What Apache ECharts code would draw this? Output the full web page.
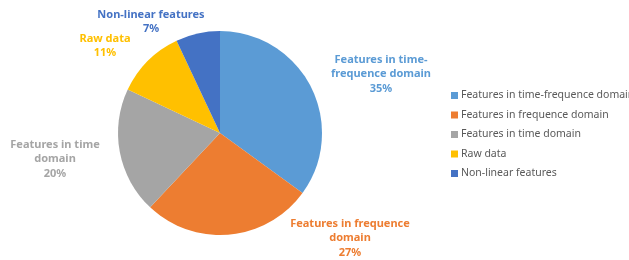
<!DOCTYPE html>
<html>
<head>
<meta charset="utf-8">
<script src="https://cdn.jsdelivr.net/npm/echarts@6/dist/echarts.min.js"></script>
<style>
  html, body { margin: 0; padding: 0; background: #fff; }
  #chart { width: 629px; height: 260px; }
</style>
</head>
<body>
<div id="chart"></div>
<script>
const categories = [
    'Features in time-frequence domain',
    'Features in frequence domain',
    'Features in time domain',
    'Raw data',
    'Non-linear features'
]
const shares = [35, 27, 20, 11, 7]
// wrapped the way the slice labels are wrapped in the picture
const labelLines = [
    'Features in time-\nfrequence domain',
    'Features in frequence\ndomain',
    'Features in time\ndomain',
    'Raw data',
    'Non-linear features'
]
const colors = ['#5B9BD5', '#ED7D31', '#A5A5A5', '#FFC000', '#4472C4']
// where each label block is centred (px)
const labelSpots = [[381, 74], [350, 238], [55, 159], [105, 46], [151, 22]]

const chart = echarts.init(document.getElementById('chart'), null, { renderer: 'canvas' })

const option = {
    color: colors,
    animation: false,
    legend: {
        orient: 'vertical',
        left: 446,
        top: 85,
        itemWidth: 7,
        itemHeight: 7,
        itemGap: 8.5,
        icon: 'rect',
        textStyle: { fontFamily: 'Noto Sans', fontSize: 10.5, color: '#595959', padding: [0, 0, 0, -2] },
        data: categories
    },
    series: [{
        type: 'pie',
        center: [220, 133],
        radius: 102,
        startAngle: 90,
        clockwise: true,
        data: categories.map((c, i) => ({ name: c, value: shares[i] })),
        label: {
            show: true,
            position: 'outside',
            overflow: 'none',
            fontFamily: 'Noto Sans',
            fontWeight: 'bold',
            fontSize: 11,
            lineHeight: 14.5,
            color: 'inherit',
            formatter: p => labelLines[p.dataIndex] + '\n' + p.value + '%'
        },
        labelLine: { show: false },
        labelLayout: p => ({
            x: labelSpots[p.dataIndex][0],
            y: labelSpots[p.dataIndex][1],
            align: 'center',
            verticalAlign: 'middle'
        }),
        itemStyle: { borderWidth: 0 }
    }]
}

chart.setOption(option)
</script>
</body>
</html>
